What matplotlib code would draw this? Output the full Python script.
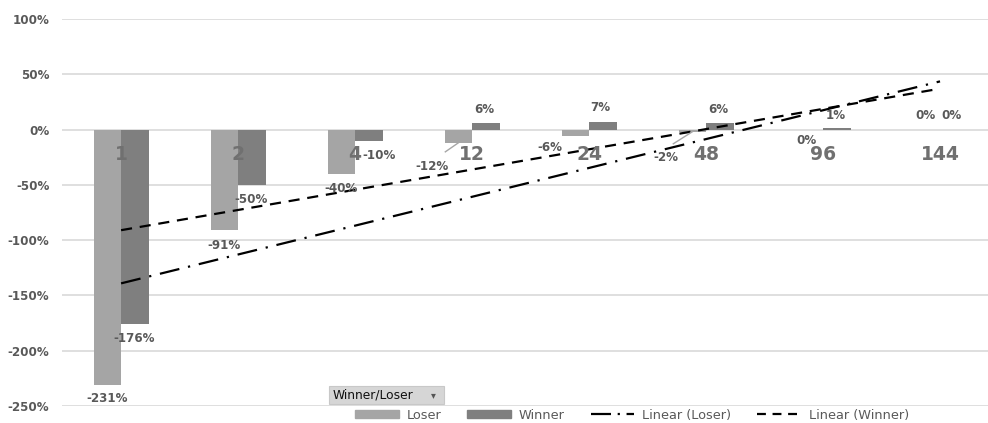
import numpy as np
import matplotlib
matplotlib.use("Agg")
import matplotlib.pyplot as plt
from matplotlib.patches import Rectangle, Patch
from matplotlib.lines import Line2D

# Holding period categories and returns (in %)
categories = ["1", "2", "4", "12", "24", "48", "96", "144"]
loser = [-231, -91, -40, -12, -6, -2, 0, 0]
winner = [-176, -50, -10, 6, 7, 6, 1, 0]
yticks = [100, 50, 0, -50, -100, -150, -200, -250]

C_LOSER = "#a5a5a5"
C_WINNER = "#7f7f7f"
C_TEXT = "#595959"
C_GRID = "#d9d9d9"

W, H = 988, 423
fig = plt.figure(figsize=(W / 100, H / 100), dpi=100)
ax = fig.add_axes([62 / W, 1 - 406 / H, 1 - 62 / W, (406 - 19) / H])

x = np.arange(len(categories))
bw = 0.235
ax.bar(x - bw / 2, np.array(loser) / 100, width=bw, color=C_LOSER, zorder=2)
ax.bar(x + bw / 2, np.array(winner) / 100, width=bw, color=C_WINNER, zorder=2)

# Linear trendlines fitted over category order 1..n
xi = np.arange(1, len(categories) + 1)
fl = np.polyfit(xi, np.array(loser) / 100, 1)
fw = np.polyfit(xi, np.array(winner) / 100, 1)
ax.plot(x, np.polyval(fl, xi), color="black", lw=1.6,
        dashes=(9, 4, 1, 4), zorder=3)
ax.plot(x, np.polyval(fw, xi), color="black", lw=1.6,
        dashes=(5, 3.5), zorder=3)

ax.set_xlim(-0.505, 7.41)
ax.set_ylim(-2.5, 1.0)
ax.set_yticks(np.array(yticks) / 100)
ax.set_yticklabels([f"{v}%" for v in yticks], fontsize=8.6,
                   fontweight="bold", color=C_TEXT)
ax.tick_params(axis="y", length=0, pad=9)
ax.set_xticks([])
ax.grid(axis="y", color=C_GRID, lw=1.2, zorder=0)
for s in ax.spines.values():
    s.set_visible(False)

# Category names drawn just under the zero line
for i, c in enumerate(categories):
    ax.text(i, -0.225, c, ha="center", va="center", fontsize=13.5,
            fontweight="bold", color="#707070", zorder=4)

# Data label offsets (pixels) relative to bar ends
loser_off = [(0, -14), (0, -15), (0, -15), (-26, -24), (-25, -11),
             (-26, -26), (-3, -11), (-1, 14)]
winner_off = [(-1, -14), (-1, -15), (10, -15), (-1, 13), (-2, 14),
              (-1, 13), (-1, 13), (-2, 14)]
for i in range(len(categories)):
    for vals, offs, dx in ((loser, loser_off, -bw / 2), (winner, winner_off, bw / 2)):
        v = vals[i]
        ax.annotate(f"{v}%", (i + dx, v / 100), xytext=offs[i],
                    textcoords="offset pixels", ha="center", va="center",
                    fontsize=8.6, fontweight="bold", color=C_TEXT, zorder=5)

# Leader lines for labels placed away from their bars
for i, (ox, oy) in ((3, (-13, -9)), (5, (-19, -12))):
    bx, by = i - bw / 2, loser[i] / 100
    px0, py0 = ax.transData.transform((bx, by))
    ax.plot([px0, px0 + ox], [py0, py0 + oy], color="#a6a6a6", lw=1,
            transform=None, zorder=4)

# Legend
handles = [Patch(color=C_LOSER), Patch(color=C_WINNER),
           Line2D([], [], color="black", lw=1.6, dashes=(9, 3, 1, 3)),
           Line2D([], [], color="black", lw=1.6, dashes=(4, 3))]
labels = ["Loser", "Winner", "Linear (Loser)", "Linear (Winner)"]
leg = fig.legend(handles, labels, loc="center", ncol=4,
                 bbox_to_anchor=(632 / W, 1 - 415 / H), frameon=False,
                 fontsize=9.3, handlelength=3.4, handleheight=0.5,
                 columnspacing=2.0, handletextpad=0.6,
                 labelcolor=C_TEXT, borderpad=0)

# Field button
btn = Rectangle((329 / W, 1 - 404 / H), 115 / W, 18 / H,
                transform=fig.transFigure, facecolor="#d6d6d6",
                edgecolor="#c8c8c8", lw=0.8, zorder=6)
fig.add_artist(btn)
fig.text(333 / W, 1 - 395 / H, "Winner/Loser", fontsize=8.8,
         color="#111111", va="center", ha="left", zorder=7)
fig.text(433 / W, 1 - 395 / H, "▾", fontsize=7, color="#555555",
         va="center", ha="center", zorder=7)

fig.savefig("out.png", dpi=100)
